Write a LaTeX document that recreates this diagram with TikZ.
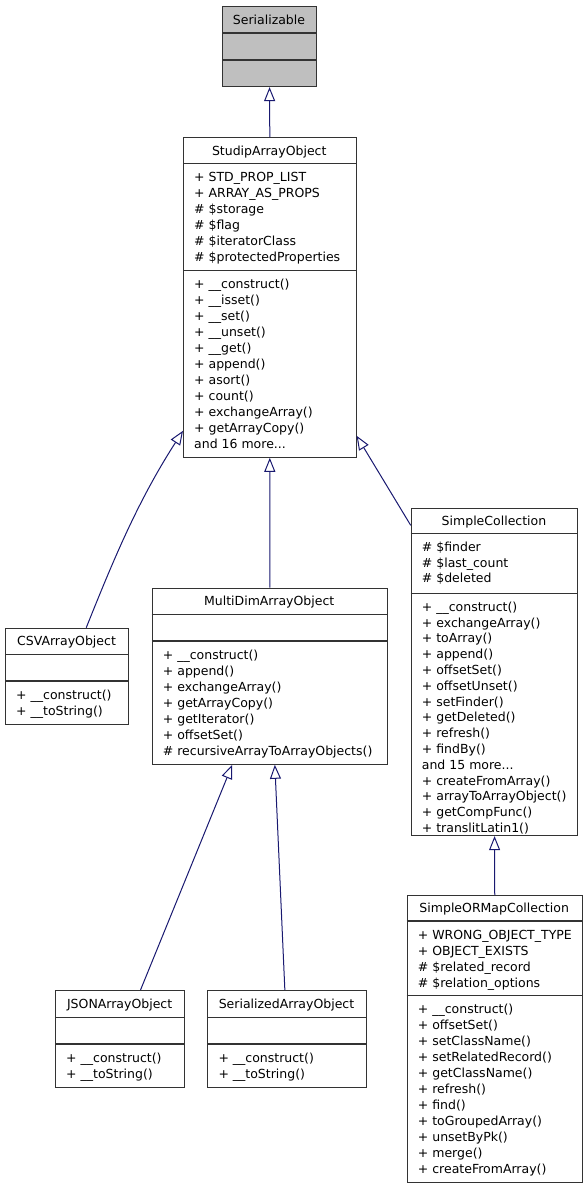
\documentclass[tikz,border=0pt]{standalone}
\usepackage{fontspec}
\setmainfont{DejaVu Sans}
\usetikzlibrary{calc,positioning,arrows.meta}
\definecolor{edgeblue}{HTML}{191970}
\definecolor{boxgray}{HTML}{BFBFBF}
\tikzset{
	klassbox/.style={draw=black!80, line width=1.1pt, inner sep=0pt},
	member/.style={inner sep=0pt, font=\fontsize{12.5}{16}\selectfont},
	inherit/.style={draw=edgeblue, line width=1pt, -{Triangle[open, length=14pt, width=11pt, line width=1pt]}}
}
% three dots, kept away from \foreach
\newcommand{\moredots}{...}
% class box: [fill]{name}{x left}{x right}{y top}{y div1}{y div2}{y bottom}
\newcommand{\klass}[8][white]
	{
	\pgfmathsetmacro{\kw}{#4-#3}
	\pgfmathsetmacro{\kh}{#8-#5}
	\node[klassbox, fill=#1, minimum width=\kw pt, minimum height=\kh pt, anchor=north west] (#2) at (#3,#5) {};
	\draw[klassbox] (#3,#6) -- (#4,#6) (#3,#7) -- (#4,#7);
	\node[member, anchor=base] at ({(#3+#4)/2},{(#5+#6)/2+4.8}) {#2};
	}
% member lines: [spacing]{x left}{y divider}{list}
\newcommand{\members}[4][16]
	{
	\foreach \m [count=\i from 0] in {#4}
		\node[member, anchor=base west] at ({#2+11},{#3+18+#1*\i}) {\m};
	}

\begin{document}
\begin{tikzpicture}[x=1pt,y=-1pt]
\useasboundingbox (0,0) rectangle (588,1189);

% kelas-kelas
\klass[boxgray]{Serializable}{222}{316}{6}{33}{60}{86}

\klass{StudipArrayObject}{183}{355.5}{137}{163.5}{270.5}{456.7}
\members{183}{163.5}{+ STD\_PROP\_LIST, + ARRAY\_AS\_PROPS, \# \$storage, \# \$flag, \# \$iteratorClass, \# \$protectedProperties}
\members{183}{270.5}{+ \_\_construct(), + \_\_isset(), + \_\_set(), + \_\_unset(), + \_\_get(), + append(), + asort(), + count(), + exchangeArray(), + getArrayCopy(), and 16 more\moredots}

\klass{CSVArrayObject}{5}{128}{627.7}{654.3}{681}{724}
\members{5}{681}{+ \_\_construct(), + \_\_toString()}

\klass{MultiDimArrayObject}{151.7}{386.7}{587.7}{614.3}{641}{763.7}
\members{151.7}{641}{+ \_\_construct(), + append(), + exchangeArray(), + getArrayCopy(), + getIterator(), + offsetSet(), \# recursiveArrayToArrayObjects()}

\klass{SimpleCollection}{410.7}{577.3}{508.3}{533.3}{593.3}{835}
\members[15.8]{410.7}{533.3}{\# \$finder, \# \$last\_count, \# \$deleted}
\members[15.8]{410.7}{593.3}{+ \_\_construct(), + exchangeArray(), + toArray(), + append(), + offsetSet(), + offsetUnset(), + setFinder(), + getDeleted(), + refresh(), + findBy(), and 15 more\moredots, + createFromArray(), + arrayToArrayObject(), + getCompFunc(), + translitLatin1()}

\klass{SimpleORMapCollection}{406.7}{581.7}{895}{921}{995.7}{1182.3}
\members{406.7}{921}{+ WRONG\_OBJECT\_TYPE, + OBJECT\_EXISTS, \# \$related\_record, \# \$relation\_options}
\members{406.7}{995.7}{+ \_\_construct(), + offsetSet(), + setClassName(), + setRelatedRecord(), + getClassName(), + refresh(), + find(), + toGroupedArray(), + unsetByPk(), + merge(), + createFromArray()}

\klass{JSONArrayObject}{55}{184.3}{990}{1017.3}{1044}{1086.7}
\members{55}{1044}{+ \_\_construct(), + \_\_toString()}

\klass{SerializedArrayObject}{207.3}{365.7}{990}{1017.3}{1044}{1086.7}
\members{207.3}{1044}{+ \_\_construct(), + \_\_toString()}

% pewarisan
\draw[inherit] (StudipArrayObject.north) -- (Serializable.south);
\draw[inherit] ($(CSVArrayObject.north)+(19.2,0)$) .. controls +(28,-70) and +(-45,70) .. ($(StudipArrayObject.south west)+(0,-27)$);
\draw[inherit] (MultiDimArrayObject.north) -- (StudipArrayObject.south);
\draw[inherit] ($(SimpleCollection.north west)+(0,17)$) -- ($(StudipArrayObject.south east)+(0,-22)$);
\draw[inherit] ($(JSONArrayObject.north)+(20.3,0)$) -- ($(MultiDimArrayObject.south)+(-37.5,0)$);
\draw[inherit] ($(SerializedArrayObject.north)+(-2.2,0)$) -- ($(MultiDimArrayObject.south)+(5.1,0)$);
\draw[inherit] (SimpleORMapCollection.north) -- (SimpleCollection.south);

\end{tikzpicture}
\end{document}
